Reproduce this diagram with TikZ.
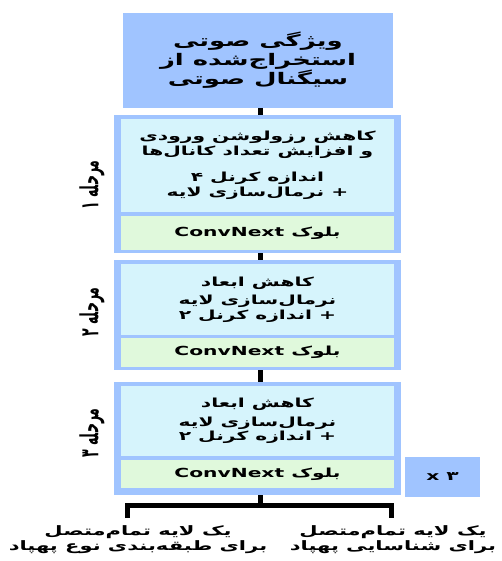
\documentclass[tikz,border=0pt]{standalone}
\usepackage{fontspec}
\usepackage{graphicx}
\TeXXeTstate=1
\newfontfamily\fa[Script=Arabic,FakeStretch=1.62]{DejaVu Sans}
\newfontfamily\fan[Script=Arabic]{DejaVu Sans}
\newcommand{\RL}[1]{\beginR #1\endR}
\definecolor{bblue}{RGB}{160,196,255}
\definecolor{bcyan}{RGB}{214,244,252}
\definecolor{bgreen}{RGB}{224,249,220}
\tikzset{
  every node/.style={font=\fa\bfseries, inner sep=0pt, outer sep=0pt},
  topbox/.style={fill=bblue, draw=none, minimum width=270pt, minimum height=95pt, align=center, font=\fa\bfseries\fontsize{16}{19}\selectfont},
  stageouter/.style={fill=bblue, draw=none, minimum width=287pt},
  cyanbox/.style={fill=bcyan, draw=none, minimum width=273pt, align=center, font=\fa\bfseries\fontsize{12.5}{14.5}\selectfont},
  greenbox/.style={fill=bgreen, draw=none, minimum width=273pt, align=center, font=\fa\bfseries\fontsize{12.5}{14.5}\selectfont},
  stagelabel/.style={rotate=90, font=\fan\bfseries\fontsize{12.5}{15}\selectfont},
  conn/.style={line width=5pt, black},
  outtext/.style={align=center, font=\fa\bfseries\fontsize{13}{15}\selectfont},
}
\begin{document}
\begin{tikzpicture}[x=1pt,y=-1pt]
\useasboundingbox (0,0) rectangle (501,561);
% top box
\node[topbox] (top) at (258,60.5) {\RL{ویژگی صوتی}\\\RL{استخراج‌شده از}\\\RL{سیگنال صوتی}};
% stage 1
\node[stageouter, minimum height=138pt] (st1) at (257.5,184) {};
\node[cyanbox, minimum height=93pt] (c1) at (257.5,165.5) {\RL{کاهش رزولوشن ورودی}\\\RL{و افزایش تعداد کانال‌ها}\\[12pt]\RL{اندازه کرنل ۴}\\\RL{+ نرمال‌سازی لایه}};
\node[greenbox, minimum height=34pt] (g1) at (257.5,233) {\RL{بلوک \beginL ConvNext\endL}};
\node[stagelabel] (l1) at (92,185) {\scalebox{1}[2.0]{\RL{مرحله ۱}}};
% stage 2
\node[stageouter, minimum height=110pt] (st2) at (257.5,315) {};
\node[cyanbox, minimum height=71pt] (c2) at (257.5,299.5) {\RL{کاهش ابعاد}\\[4pt]\RL{نرمال‌سازی لایه}\\\RL{+ اندازه کرنل ۲}};
\node[greenbox, minimum height=29pt] (g2) at (257.5,352.5) {\RL{بلوک \beginL ConvNext\endL}};
\node[stagelabel] (l2) at (92,312) {\scalebox{1}[2.0]{\RL{مرحله ۲}}};
% stage 3
\node[stageouter, minimum height=113pt] (st3) at (257.5,438.5) {};
\node[cyanbox, minimum height=70pt] (c3) at (257.5,421) {\RL{کاهش ابعاد}\\[4pt]\RL{نرمال‌سازی لایه}\\\RL{+ اندازه کرنل ۲}};
\node[greenbox, minimum height=28pt] (g3) at (257.5,474) {\RL{بلوک \beginL ConvNext\endL}};
\node[stagelabel] (l3) at (92,433) {\scalebox{1}[2.0]{\RL{مرحله ۳}}};
% x3 box
\node[fill=bblue, minimum width=75pt, minimum height=40pt, font=\fa\bfseries\fontsize{12.5}{14}\selectfont] (rep) at (442.5,477) {x ۳};
% outputs
\node[outtext] (o1) at (138,539.5) {\RL{یک لایه تمام‌متصل}\\\RL{برای طبقه‌بندی نوع پهپاد}};
\node[outtext] (o2) at (393,539.5) {\RL{یک لایه تمام‌متصل}\\\RL{برای شناسایی پهپاد}};
\coordinate (j) at (260,505);
\coordinate (jl) at (127,518);
\coordinate (jr) at (391,518);
% connectors
\draw[conn] (top.south -| 260,0) -- (st1.north -| 260,0);
\draw[conn] (st1.south -| 260,0) -- (st2.north -| 260,0);
\draw[conn] (st2.south -| 260,0) -- (st3.north -| 260,0);
\draw[conn] (st3.south -| 260,0) -- (j);
\draw[conn, line join=miter] (jl) |- (j) -| (jr);
\end{tikzpicture}
\end{document}
